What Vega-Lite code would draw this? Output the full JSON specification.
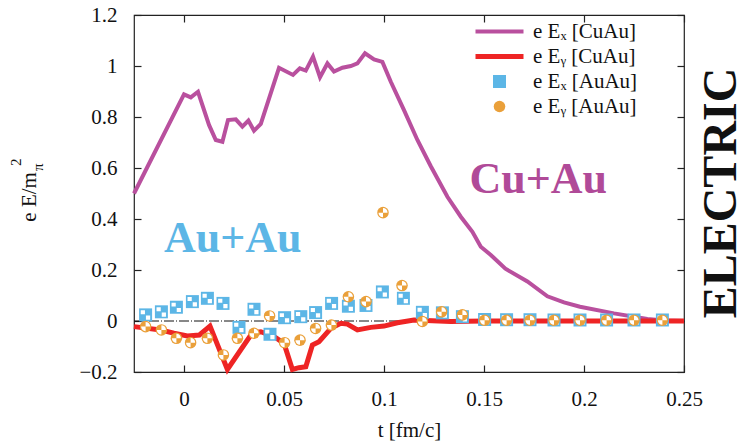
{
  "$schema": "https://vega.github.io/schema/vega-lite/v6.json",
  "width": 550,
  "height": 357,
  "autosize": {"type": "none"},
  "padding": {"left": 134, "top": 15, "right": 63, "bottom": 74},
  "background": "white",
  "config": {
    "font": "Liberation Serif",
    "view": {"stroke": "#222", "strokeWidth": 1.2},
    "axis": {
      "labelFont": "Liberation Serif", "labelFontSize": 21, "labelColor": "#111",
      "titleFont": "Liberation Serif", "titleFontSize": 21, "titleFontWeight": "normal", "titleColor": "#111",
      "domain": false, "tickColor": "#222", "tickWidth": 1.2,
      "grid": false, "tickSize": 7, "offset": -7, "labelFlush": false, "labelOverlap": false
    },
    "legend": {
      "orient": "none", "legendX": 355, "legendY": 6,
      "labelFont": "Liberation Serif", "labelFontSize": 21, "labelColor": "#111",
      "labelOffset": 23, "rowPadding": 3, "symbolOpacity": 1
    }
  },
  "datasets": {
    "lines": [
      {"t": -0.025, "v": 0.5, "series": "e Eₓ [CuAu]"},
      {"t": 0.0, "v": 0.889, "series": "e Eₓ [CuAu]"},
      {"t": 0.0034, "v": 0.877, "series": "e Eₓ [CuAu]"},
      {"t": 0.007, "v": 0.899, "series": "e Eₓ [CuAu]"},
      {"t": 0.0125, "v": 0.769, "series": "e Eₓ [CuAu]"},
      {"t": 0.0159, "v": 0.71, "series": "e Eₓ [CuAu]"},
      {"t": 0.0192, "v": 0.703, "series": "e Eₓ [CuAu]"},
      {"t": 0.022, "v": 0.788, "series": "e Eₓ [CuAu]"},
      {"t": 0.0259, "v": 0.791, "series": "e Eₓ [CuAu]"},
      {"t": 0.0292, "v": 0.762, "series": "e Eₓ [CuAu]"},
      {"t": 0.0322, "v": 0.786, "series": "e Eₓ [CuAu]"},
      {"t": 0.035, "v": 0.746, "series": "e Eₓ [CuAu]"},
      {"t": 0.0384, "v": 0.773, "series": "e Eₓ [CuAu]"},
      {"t": 0.0475, "v": 0.993, "series": "e Eₓ [CuAu]"},
      {"t": 0.0545, "v": 0.965, "series": "e Eₓ [CuAu]"},
      {"t": 0.0579, "v": 0.991, "series": "e Eₓ [CuAu]"},
      {"t": 0.0609, "v": 0.982, "series": "e Eₓ [CuAu]"},
      {"t": 0.0645, "v": 1.037, "series": "e Eₓ [CuAu]"},
      {"t": 0.068, "v": 0.956, "series": "e Eₓ [CuAu]"},
      {"t": 0.0717, "v": 1.01, "series": "e Eₓ [CuAu]"},
      {"t": 0.075, "v": 0.978, "series": "e Eₓ [CuAu]"},
      {"t": 0.0792, "v": 0.993, "series": "e Eₓ [CuAu]"},
      {"t": 0.0834, "v": 1.0, "series": "e Eₓ [CuAu]"},
      {"t": 0.0867, "v": 1.01, "series": "e Eₓ [CuAu]"},
      {"t": 0.0905, "v": 1.05, "series": "e Eₓ [CuAu]"},
      {"t": 0.095, "v": 1.026, "series": "e Eₓ [CuAu]"},
      {"t": 0.0992, "v": 1.016, "series": "e Eₓ [CuAu]"},
      {"t": 0.1034, "v": 0.938, "series": "e Eₓ [CuAu]"},
      {"t": 0.11, "v": 0.827, "series": "e Eₓ [CuAu]"},
      {"t": 0.1167, "v": 0.71, "series": "e Eₓ [CuAu]"},
      {"t": 0.1234, "v": 0.607, "series": "e Eₓ [CuAu]"},
      {"t": 0.1317, "v": 0.487, "series": "e Eₓ [CuAu]"},
      {"t": 0.1384, "v": 0.409, "series": "e Eₓ [CuAu]"},
      {"t": 0.1442, "v": 0.35, "series": "e Eₓ [CuAu]"},
      {"t": 0.1484, "v": 0.291, "series": "e Eₓ [CuAu]"},
      {"t": 0.1534, "v": 0.259, "series": "e Eₓ [CuAu]"},
      {"t": 0.1607, "v": 0.205, "series": "e Eₓ [CuAu]"},
      {"t": 0.1717, "v": 0.155, "series": "e Eₓ [CuAu]"},
      {"t": 0.1817, "v": 0.097, "series": "e Eₓ [CuAu]"},
      {"t": 0.19, "v": 0.073, "series": "e Eₓ [CuAu]"},
      {"t": 0.198, "v": 0.056, "series": "e Eₓ [CuAu]"},
      {"t": 0.215, "v": 0.03, "series": "e Eₓ [CuAu]"},
      {"t": 0.2317, "v": 0.008, "series": "e Eₓ [CuAu]"},
      {"t": 0.24, "v": 0.002, "series": "e Eₓ [CuAu]"},
      {"t": 0.25, "v": 0.0, "series": "e Eₓ [CuAu]"},
      {"t": -0.025, "v": -0.022, "series": "e Eᵧ [CuAu]"},
      {"t": -0.0117, "v": -0.035, "series": "e Eᵧ [CuAu]"},
      {"t": -0.005, "v": -0.048, "series": "e Eᵧ [CuAu]"},
      {"t": 0.0017, "v": -0.059, "series": "e Eᵧ [CuAu]"},
      {"t": 0.0077, "v": -0.055, "series": "e Eᵧ [CuAu]"},
      {"t": 0.013, "v": -0.02, "series": "e Eᵧ [CuAu]"},
      {"t": 0.0217, "v": -0.19, "series": "e Eᵧ [CuAu]"},
      {"t": 0.034, "v": -0.048, "series": "e Eᵧ [CuAu]"},
      {"t": 0.0384, "v": -0.042, "series": "e Eᵧ [CuAu]"},
      {"t": 0.045, "v": -0.061, "series": "e Eᵧ [CuAu]"},
      {"t": 0.05, "v": -0.088, "series": "e Eᵧ [CuAu]"},
      {"t": 0.0542, "v": -0.19, "series": "e Eᵧ [CuAu]"},
      {"t": 0.0575, "v": -0.183, "series": "e Eᵧ [CuAu]"},
      {"t": 0.0609, "v": -0.179, "series": "e Eᵧ [CuAu]"},
      {"t": 0.0642, "v": -0.094, "series": "e Eᵧ [CuAu]"},
      {"t": 0.0675, "v": -0.081, "series": "e Eᵧ [CuAu]"},
      {"t": 0.0734, "v": -0.029, "series": "e Eᵧ [CuAu]"},
      {"t": 0.0784, "v": -0.009, "series": "e Eᵧ [CuAu]"},
      {"t": 0.0817, "v": -0.012, "series": "e Eᵧ [CuAu]"},
      {"t": 0.0867, "v": -0.035, "series": "e Eᵧ [CuAu]"},
      {"t": 0.0934, "v": -0.025, "series": "e Eᵧ [CuAu]"},
      {"t": 0.1, "v": -0.02, "series": "e Eᵧ [CuAu]"},
      {"t": 0.1067, "v": -0.007, "series": "e Eᵧ [CuAu]"},
      {"t": 0.115, "v": 0.004, "series": "e Eᵧ [CuAu]"},
      {"t": 0.1334, "v": -0.002, "series": "e Eᵧ [CuAu]"},
      {"t": 0.15, "v": 0.0, "series": "e Eᵧ [CuAu]"},
      {"t": 0.2, "v": 0.0, "series": "e Eᵧ [CuAu]"},
      {"t": 0.25, "v": 0.0, "series": "e Eᵧ [CuAu]"}
    ],
    "ex": [
      {"t": -0.0192, "v": 0.024, "series": "e Eₓ [AuAu]"},
      {"t": -0.0113, "v": 0.036, "series": "e Eₓ [AuAu]"},
      {"t": -0.0038, "v": 0.054, "series": "e Eₓ [AuAu]"},
      {"t": 0.0042, "v": 0.076, "series": "e Eₓ [AuAu]"},
      {"t": 0.0117, "v": 0.089, "series": "e Eₓ [AuAu]"},
      {"t": 0.0195, "v": 0.069, "series": "e Eₓ [AuAu]"},
      {"t": 0.0275, "v": -0.025, "series": "e Eₓ [AuAu]"},
      {"t": 0.035, "v": 0.046, "series": "e Eₓ [AuAu]"},
      {"t": 0.043, "v": -0.052, "series": "e Eₓ [AuAu]"},
      {"t": 0.0503, "v": 0.013, "series": "e Eₓ [AuAu]"},
      {"t": 0.0584, "v": 0.017, "series": "e Eₓ [AuAu]"},
      {"t": 0.0658, "v": 0.033, "series": "e Eₓ [AuAu]"},
      {"t": 0.0738, "v": 0.069, "series": "e Eₓ [AuAu]"},
      {"t": 0.0822, "v": 0.058, "series": "e Eₓ [AuAu]"},
      {"t": 0.091, "v": 0.061, "series": "e Eₓ [AuAu]"},
      {"t": 0.0992, "v": 0.114, "series": "e Eₓ [AuAu]"},
      {"t": 0.1097, "v": 0.089, "series": "e Eₓ [AuAu]"},
      {"t": 0.1192, "v": 0.034, "series": "e Eₓ [AuAu]"},
      {"t": 0.1292, "v": 0.032, "series": "e Eₓ [AuAu]"},
      {"t": 0.1392, "v": 0.017, "series": "e Eₓ [AuAu]"},
      {"t": 0.1503, "v": 0.006, "series": "e Eₓ [AuAu]"},
      {"t": 0.1613, "v": 0.005, "series": "e Eₓ [AuAu]"},
      {"t": 0.173, "v": 0.005, "series": "e Eₓ [AuAu]"},
      {"t": 0.185, "v": 0.004, "series": "e Eₓ [AuAu]"},
      {"t": 0.198, "v": 0.004, "series": "e Eₓ [AuAu]"},
      {"t": 0.2113, "v": 0.004, "series": "e Eₓ [AuAu]"},
      {"t": 0.225, "v": 0.004, "series": "e Eₓ [AuAu]"},
      {"t": 0.2392, "v": 0.004, "series": "e Eₓ [AuAu]"}
    ],
    "ey": [
      {"t": -0.0192, "v": -0.022, "series": "e Eᵧ [AuAu]"},
      {"t": -0.0113, "v": -0.035, "series": "e Eᵧ [AuAu]"},
      {"t": -0.0038, "v": -0.068, "series": "e Eᵧ [AuAu]"},
      {"t": 0.0033, "v": -0.085, "series": "e Eᵧ [AuAu]"},
      {"t": 0.0117, "v": -0.068, "series": "e Eᵧ [AuAu]"},
      {"t": 0.0197, "v": -0.133, "series": "e Eᵧ [AuAu]"},
      {"t": 0.0267, "v": -0.068, "series": "e Eᵧ [AuAu]"},
      {"t": 0.035, "v": -0.048, "series": "e Eᵧ [AuAu]"},
      {"t": 0.0428, "v": 0.02, "series": "e Eᵧ [AuAu]"},
      {"t": 0.0503, "v": -0.085, "series": "e Eᵧ [AuAu]"},
      {"t": 0.058, "v": -0.075, "series": "e Eᵧ [AuAu]"},
      {"t": 0.0658, "v": -0.029, "series": "e Eᵧ [AuAu]"},
      {"t": 0.0737, "v": -0.016, "series": "e Eᵧ [AuAu]"},
      {"t": 0.0822, "v": 0.095, "series": "e Eᵧ [AuAu]"},
      {"t": 0.091, "v": 0.076, "series": "e Eᵧ [AuAu]"},
      {"t": 0.0995, "v": 0.425, "series": "e Eᵧ [AuAu]"},
      {"t": 0.109, "v": 0.139, "series": "e Eᵧ [AuAu]"},
      {"t": 0.1192, "v": -0.002, "series": "e Eᵧ [AuAu]"},
      {"t": 0.1288, "v": 0.036, "series": "e Eᵧ [AuAu]"},
      {"t": 0.1392, "v": 0.024, "series": "e Eᵧ [AuAu]"},
      {"t": 0.1503, "v": 0.003, "series": "e Eᵧ [AuAu]"},
      {"t": 0.1613, "v": 0.003, "series": "e Eᵧ [AuAu]"},
      {"t": 0.173, "v": 0.003, "series": "e Eᵧ [AuAu]"},
      {"t": 0.185, "v": 0.003, "series": "e Eᵧ [AuAu]"},
      {"t": 0.198, "v": 0.003, "series": "e Eᵧ [AuAu]"},
      {"t": 0.2113, "v": 0.003, "series": "e Eᵧ [AuAu]"},
      {"t": 0.225, "v": 0.003, "series": "e Eᵧ [AuAu]"},
      {"t": 0.2392, "v": 0.003, "series": "e Eᵧ [AuAu]"}
    ],
    "labels": [
      {"t": 0.1771, "v": 0.553, "label": "Cu+Au"},
      {"t": 0.0244, "v": 0.322, "label": "Au+Au"}
    ]
  },
  "layer": [
    {
      "data": {"values": [{}]},
      "mark": {"type": "rule", "color": "#111", "strokeWidth": 1, "strokeDash": [10, 2, 1, 2]},
      "encoding": {"y": {"datum": 0, "type": "quantitative", "axis": null}}
    },
    {
      "data": {"name": "lines"},
      "mark": {"type": "line", "strokeCap": "butt", "strokeJoin": "miter"},
      "encoding": {
        "x": {"field": "t", "type": "quantitative",
          "scale": {"domain": [-0.025, 0.25], "nice": false, "zero": false},
          "axis": {"orient": "bottom", "values": [0, 0.05, 0.1, 0.15, 0.2, 0.25], "format": "~g", "title": "t [fm/c]", "labelPadding": 16, "titlePadding": 10}},
        "y": {"field": "v", "type": "quantitative",
          "scale": {"domain": [-0.2, 1.2], "nice": false, "zero": false},
          "axis": {"orient": "left", "values": [-0.2, 0, 0.2, 0.4, 0.6, 0.8, 1, 1.2], "format": "~g", "title": null, "labelPadding": 17}},
        "color": {"field": "series", "type": "nominal",
          "scale": {"domain": ["e Eₓ [CuAu]", "e Eᵧ [CuAu]", "e Eₓ [AuAu]", "e Eᵧ [AuAu]"], "range": ["#b9509e", "#ee2424", "#5cb6e6", "#eaa03a"]},
          "legend": {
            "title": null,
            "encode": {
              "symbols": {
                "update": {
                  "shape": {"signal": "datum.index < 2 ? 'M-4,0H4' : (datum.index === 2 ? 'square' : 'circle')"},
                  "size": {"signal": "datum.index < 2 ? 144 : (datum.index === 2 ? 169 : 133)"},
                  "strokeWidth": {"signal": "datum.index === 0 ? 4 : (datum.index === 1 ? 5 : 0)"},
                  "fill": {"signal": "datum.index < 2 ? 'transparent' : scale('color', datum.value)"},
                  "stroke": {"signal": "scale('color', datum.value)"},
                  "opacity": {"value": 1}
                }
              }
            }
          }},
        "strokeWidth": {"condition": {"test": "datum.series === 'e Eᵧ [CuAu]'", "value": 5}, "value": 4}
      }
    },
    {
      "data": {"name": "ex"},
      "mark": {"type": "point", "filled": true, "opacity": 1, "shape": "square", "size": 169, "color": "#5cb6e6"},
      "encoding": {
        "x": {"field": "t", "type": "quantitative", "axis": null},
        "y": {"field": "v", "type": "quantitative", "axis": null}
      }
    },
    {
      "data": {"name": "ex"},
      "mark": {"type": "point", "filled": true, "opacity": 1, "color": "white",
        "shape": "M-0.75,-0.7H-0.1V-0.1H-0.75Z M0.05,0.1H0.7V0.75H0.05Z", "size": 169},
      "encoding": {
        "x": {"field": "t", "type": "quantitative", "axis": null},
        "y": {"field": "v", "type": "quantitative", "axis": null}
      }
    },
    {
      "data": {"name": "ey"},
      "mark": {"type": "point", "filled": true, "opacity": 1, "shape": "circle", "size": 133, "color": "#eaa03a"},
      "encoding": {
        "x": {"field": "t", "type": "quantitative", "axis": null},
        "y": {"field": "v", "type": "quantitative", "axis": null}
      }
    },
    {
      "data": {"name": "ey"},
      "mark": {"type": "point", "filled": true, "opacity": 1, "color": "white",
        "shape": "M0,0V-0.7A0.7,0.7 0 0,1 0.7,0Z M0,0V0.7A0.7,0.7 0 0,1 -0.7,0Z", "size": 169},
      "encoding": {
        "x": {"field": "t", "type": "quantitative", "axis": null},
        "y": {"field": "v", "type": "quantitative", "axis": null}
      }
    },
    {
      "data": {"name": "labels"},
      "mark": {"type": "text", "font": "Liberation Serif", "fontWeight": "bold", "fontSize": 44, "align": "center", "baseline": "middle"},
      "encoding": {
        "x": {"field": "t", "type": "quantitative",
          "axis": {"orient": "top", "values": [0, 0.05, 0.1, 0.15, 0.2, 0.25], "labels": false, "title": null}},
        "y": {"field": "v", "type": "quantitative",
          "axis": {"orient": "right", "values": [-0.2, 0, 0.2, 0.4, 0.6, 0.8, 1, 1.2], "labels": false, "title": null}},
        "text": {"field": "label"},
        "color": {"condition": {"test": "datum.label === 'Cu+Au'", "value": "#b04a98"}, "value": "#5cb6e6"}
      }
    },
    {
      "data": {"values": [{}]},
      "mark": {"type": "text", "font": "Liberation Serif", "fontWeight": "bold", "fontSize": 48, "angle": 270, "align": "center", "baseline": "middle", "color": "#111"},
      "encoding": {
        "x": {"datum": 0.269, "type": "quantitative", "axis": null},
        "y": {"datum": 0.502, "type": "quantitative", "axis": null},
        "text": {"value": "ELECTRIC"}
      }
    },
    {
      "data": {"values": [{}]},
      "mark": {"type": "text", "font": "Liberation Serif", "fontSize": 21, "angle": 270, "align": "right", "baseline": "alphabetic", "color": "#111"},
      "encoding": {
        "x": {"datum": -0.074, "type": "quantitative", "axis": null},
        "y": {"datum": 0.584, "type": "quantitative", "axis": null},
        "text": {"value": "e E/m"}
      }
    },
    {
      "data": {"values": [{}]},
      "mark": {"type": "text", "font": "Liberation Serif", "fontSize": 15, "angle": 270, "align": "left", "baseline": "alphabetic", "color": "#111"},
      "encoding": {
        "x": {"datum": -0.0705, "type": "quantitative", "axis": null},
        "y": {"datum": 0.588, "type": "quantitative", "axis": null},
        "text": {"value": "π"}
      }
    },
    {
      "data": {"values": [{}]},
      "mark": {"type": "text", "font": "Liberation Serif", "fontSize": 15, "angle": 270, "align": "left", "baseline": "alphabetic", "color": "#111"},
      "encoding": {
        "x": {"datum": -0.0815, "type": "quantitative", "axis": null},
        "y": {"datum": 0.608, "type": "quantitative", "axis": null},
        "text": {"value": "2"}
      }
    }
  ],
  "resolve": {"axis": {"x": "independent", "y": "independent"}}
}
